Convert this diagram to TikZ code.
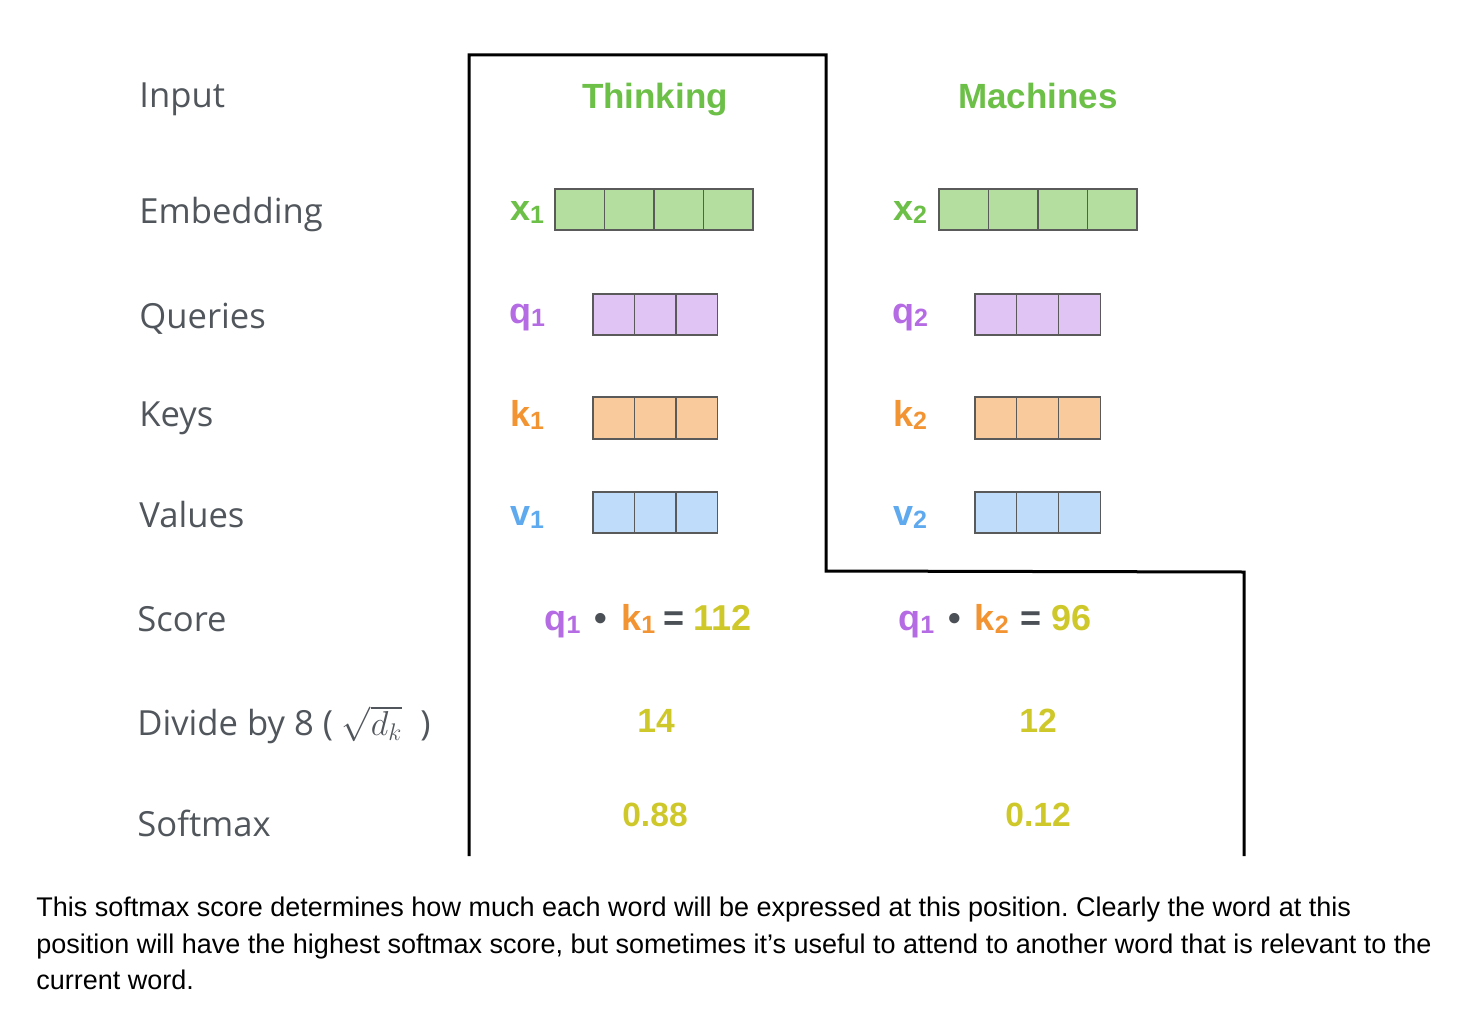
\documentclass[tikz,border=0pt]{standalone}
\usepackage{fontspec}
\setmainfont{Liberation Sans}
\newfontfamily\labfont{Open Sans}
\frenchspacing
\definecolor{lab}{HTML}{50565C}
\definecolor{cgreen}{HTML}{6CBF47}
\definecolor{fgreen}{HTML}{B3DE9F}
\definecolor{cpurple}{HTML}{B46BE3}
\definecolor{fpurple}{HTML}{E0C4F3}
\definecolor{corange}{HTML}{F39433}
\definecolor{forange}{HTML}{F9CB9C}
\definecolor{cblue}{HTML}{5FA9EE}
\definecolor{fblue}{HTML}{BFDDFB}
\definecolor{cyellow}{HTML}{CFC82B}
\definecolor{cdark}{HTML}{4A5056}
\definecolor{cellline}{HTML}{5A5A5A}
\newcommand\vsb[2]{#1{\fontsize{12.5}{12.5}\selectfont\raisebox{-0.12em}{#2}}}
\tikzset{
  rowlab/.style={anchor=base west,inner sep=0pt,font=\labfont\fontsize{17.3}{20}\selectfont,text=lab},
  word/.style={anchor=base,inner sep=0pt,font=\bfseries\fontsize{17.5}{20}\selectfont,text=cgreen},
  vlab/.style={inner sep=0pt,font=\bfseries\fontsize{18}{20}\selectfont},
  num/.style={inner sep=0pt,font=\bfseries\fontsize{16.8}{20}\selectfont,text=cyellow},
  cell/.style={draw=cellline,line width=0.6pt},
  outline/.style={draw=black,line width=1.5pt,miter limit=10},
  para/.style={anchor=base west,inner sep=0pt,font=\fontsize{13.5}{16}\selectfont,text=black}
}
\begin{document}
\begin{tikzpicture}[x=0.5pt,y=-0.5pt]
\useasboundingbox (0,0) rectangle (1465,1016);
% outline
\draw[outline] (469,856) -- (469,55) -- (826,55) -- (826,571) -- (1244,572) -- (1244,856);
% row labels
\node[rowlab] (lInput) at (139,108) {Input};
\node[rowlab] (lEmb) at (139,224) {Embedding};
\node[rowlab] (lQ) at (139,328) {Queries};
\node[rowlab] (lK) at (139,426) {Keys};
\node[rowlab] (lV) at (139,527) {Values};
\node[rowlab] (lS) at (137,631) {Score};
\node[rowlab] (lD) at (137,735) {Divide by 8 ( {\color{lab}$\sqrt{d_k}$}\hspace{9pt})};
\node[rowlab] (lSm) at (137,836) {Softmax};
% words
\node[word] (w1) at (655,109) {Thinking};
\node[word] (w2) at (1038,109) {Machines};
% embeddings
\node[vlab,text=cgreen] (x1) at (527,212) {\vsb{x}{1}};
\node[vlab,text=cgreen] (x2) at (910,212) {\vsb{x}{2}};
\foreach \i in {0,...,3} {
  \draw[cell,fill=fgreen] (555+\i*49.5,189) rectangle ++(49.5,41);
  \draw[cell,fill=fgreen] (939+\i*49.5,189) rectangle ++(49.5,41);
}
% queries, keys, values
\node[vlab,text=cpurple] (q1) at (527,318) {\vsb{q}{1}};
\node[vlab,text=cpurple] (q2) at (910,318) {\vsb{q}{2}};
\node[vlab,text=corange] (k1) at (527,415) {\vsb{k}{1}};
\node[vlab,text=corange] (k2) at (910,415) {\vsb{k}{2}};
\node[vlab,text=cblue] (v1) at (527,517) {\vsb{v}{1}};
\node[vlab,text=cblue] (v2) at (910,517) {\vsb{v}{2}};
\foreach \i in {0,1,2} {
  \draw[cell,fill=fpurple] (593+\i*41.5,294) rectangle ++(41.5,41);
  \draw[cell,fill=fpurple] (975+\i*41.7,294) rectangle ++(41.7,41);
  \draw[cell,fill=forange] (593+\i*41.5,397) rectangle ++(41.5,42);
  \draw[cell,fill=forange] (975+\i*41.7,397) rectangle ++(41.7,42);
  \draw[cell,fill=fblue] (593+\i*41.5,492) rectangle ++(41.5,41);
  \draw[cell,fill=fblue] (975+\i*41.7,492) rectangle ++(41.7,41);
}
% score
\node[vlab] (s1) at (648,621) {{\color{cpurple}\vsb{q}{1}}\hspace{7pt}{\color{cdark}•}\hspace{7pt}{\color{corange}\vsb{k}{1}}\hspace{4pt}{\color{cdark}=}\hspace{4.5pt}{\color{cyellow}112}};
\node[vlab] (s2) at (995,621) {{\color{cpurple}\vsb{q}{1}}\hspace{7pt}{\color{cdark}•}\hspace{7pt}{\color{corange}\vsb{k}{2}}\hspace{6pt}{\color{cdark}=}\hspace{5pt}{\color{cyellow}96}};
% divide and softmax values
\node[num] (d1) at (656,721) {14};
\node[num] (d2) at (1038,721) {12};
\node[num] (m1) at (655,815) {0.88};
\node[num] (m2) at (1038,815) {0.12};
% paragraph
\node[para] (p1) at (36,916) {This softmax score determines how much each word will be expressed at this position. Clearly the word at this};
\node[para] (p2) at (36,953) {position will have the highest softmax score, but sometimes it’s useful to attend to another word that is relevant to the};
\node[para] (p3) at (36,989) {current word.};
\end{tikzpicture}
\end{document}
